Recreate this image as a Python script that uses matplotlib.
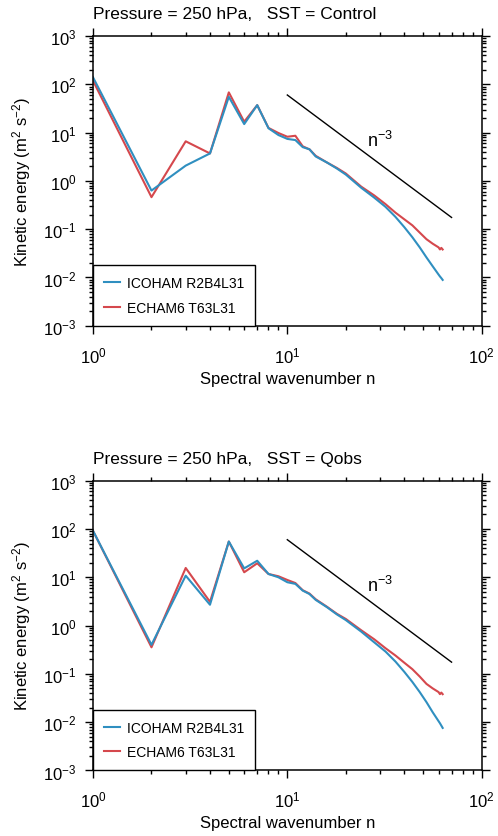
import numpy as np
import matplotlib.pyplot as plt
from matplotlib.ticker import LogLocator, NullFormatter

plt.rcParams['font.family'] = ['Liberation Sans', 'DejaVu Sans']
plt.rcParams['mathtext.fontset'] = 'custom'
plt.rcParams['mathtext.rm'] = 'Liberation Sans'
plt.rcParams['mathtext.it'] = 'Liberation Sans'
plt.rcParams['mathtext.default'] = 'regular'

# wavenumbers where the spectra were read
n = [1, 2, 3, 4, 5, 6, 7, 8, 9, 10, 11, 12, 13, 14, 16, 18, 20, 24, 28,
     32, 36, 40, 44, 48, 52, 56, 60, 61, 62, 63]

# panel 1: SST = Control
icoham_ctl = [140, 0.63, 2.07, 3.7, 55, 15, 37, 12.3, 8.9, 7.4, 7.0, 5.0, 4.5,
              3.2, 2.4, 1.8, 1.35, 0.72, 0.45, 0.29, 0.18, 0.11, 0.068, 0.042,
              0.026, 0.017, 0.0115, 0.0105, 0.0097, 0.0089]
echam_ctl = [119, 0.46, 6.6, 3.7, 68, 16.8, 37, 12.5, 9.8, 8.2, 8.6, 5.2, 4.5,
             3.3, 2.4, 1.85, 1.42, 0.76, 0.5, 0.33, 0.22, 0.16, 0.12, 0.085,
             0.062, 0.05, 0.042, 0.038, 0.041, 0.038]

# panel 2: SST = Qobs
icoham_qobs = [92, 0.40, 10.8, 2.7, 55, 15.3, 22, 11.7, 10, 7.9, 7.3, 5.3, 4.5,
               3.4, 2.4, 1.7, 1.3, 0.75, 0.45, 0.29, 0.18, 0.11, 0.068, 0.042,
               0.026, 0.016, 0.0105, 0.0095, 0.0085, 0.0076]
echam_qobs = [92, 0.355, 15.6, 3.1, 55, 12.7, 19.5, 11.7, 10.5, 8.8, 7.6, 5.4,
              4.6, 3.5, 2.45, 1.75, 1.37, 0.8, 0.52, 0.34, 0.24, 0.17, 0.125,
              0.088, 0.062, 0.05, 0.042, 0.038, 0.041, 0.038]

# reference slope line
ref_n = [10, 70]
ref_e = [60, 60 * (70 / 10) ** -3]

panels = [('Pressure = 250 hPa,   SST = Control', icoham_ctl, echam_ctl),
          ('Pressure = 250 hPa,   SST = Qobs', icoham_qobs, echam_qobs)]

blue = '#2f8fc0'
red = '#d5484d'

fig = plt.figure(figsize=(4.98, 8.37), dpi=100)
bottoms = [0.6096, 0.0783]

for (title, ico, ech), b in zip(panels, bottoms):
    ax = fig.add_axes([0.1867, b, 0.7805, 0.3462])
    ax.plot(n, ech, color=red, lw=1.5, label='ECHAM6 T63L31')
    ax.plot(n, ico, color=blue, lw=1.5, label='ICOHAM R2B4L31')
    ax.plot(ref_n, ref_e, color='black', lw=1.0)
    ax.text(30, 7.0, '$n^{-3}$', fontsize=13, ha='center', va='center')

    ax.set_xscale('log')
    ax.set_yscale('log')
    ax.set_xlim(1, 100)
    ax.set_ylim(1e-3, 1e3)
    ax.xaxis.set_major_locator(LogLocator(base=10, numticks=10))
    ax.yaxis.set_major_locator(LogLocator(base=10, numticks=10))
    ax.xaxis.set_minor_locator(LogLocator(base=10, subs=np.arange(2, 10), numticks=20))
    ax.yaxis.set_minor_locator(LogLocator(base=10, subs=np.arange(2, 10), numticks=20))
    ax.xaxis.set_minor_formatter(NullFormatter())
    ax.yaxis.set_minor_formatter(NullFormatter())
    ax.tick_params(which='both', direction='out', top=True, right=True,
                   labelsize=12, width=1.0)
    ax.tick_params(which='major', length=6)
    ax.tick_params(which='minor', length=3)
    ax.tick_params(axis='x', which='major', pad=8)
    ax.tick_params(axis='y', which='major', pad=6)
    for s in ax.spines.values():
        s.set_linewidth(1.1)

    ax.set_xlabel('Spectral wavenumber n', fontsize=12, labelpad=4)
    ax.set_ylabel('Kinetic energy (m$^2$ s$^{-2}$)', fontsize=12, labelpad=7)
    ax.set_title(title, fontsize=12.5, loc='left', pad=13)

    h, l = ax.get_legend_handles_labels()
    leg = ax.legend(h[::-1], l[::-1], loc='lower left', borderaxespad=0,
                    fancybox=False, edgecolor='black', framealpha=1,
                    fontsize=10, handlelength=1.15, handletextpad=0.5,
                    borderpad=0.8, labelspacing=0.75)
    leg.get_frame().set_linewidth(1.0)

fig.savefig('out.png', dpi=100)
